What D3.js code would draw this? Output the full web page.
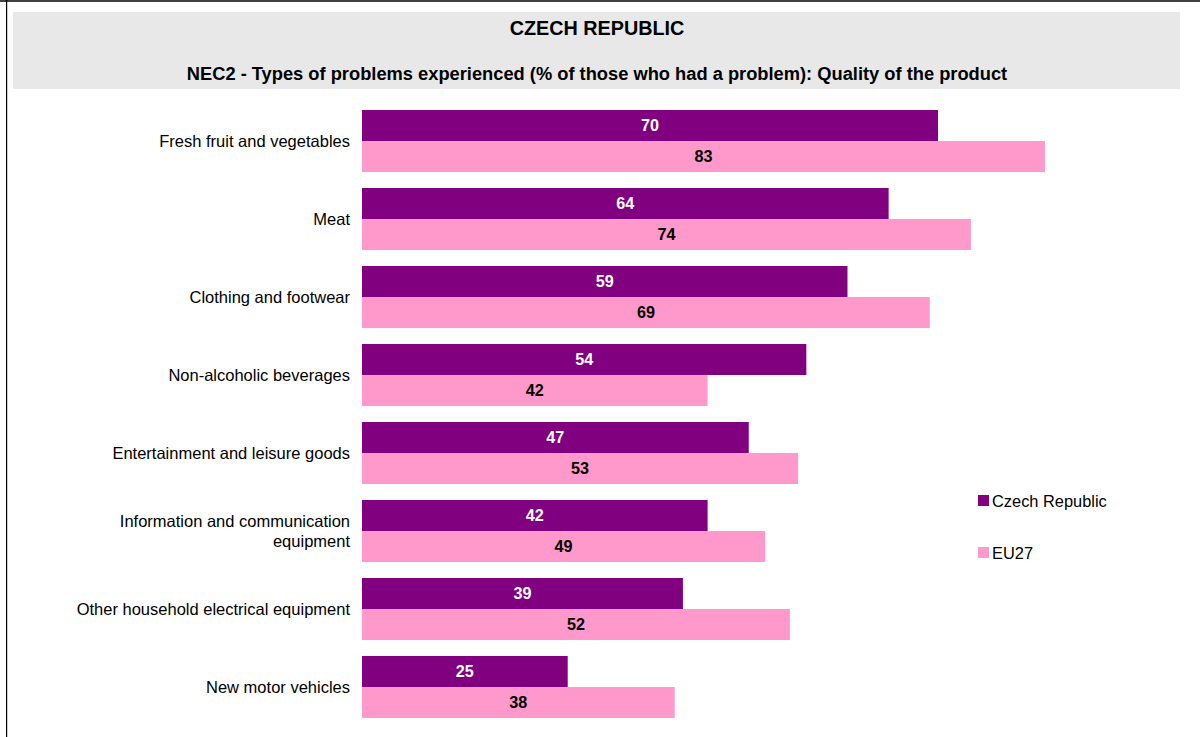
<!DOCTYPE html>
<html><head><meta charset="utf-8">
<script src="https://cdn.jsdelivr.net/npm/d3@7"></script>
<style>body{margin:0;background:#fff;} svg{display:block;font-family:"Liberation Sans",Arial,sans-serif;}</style>
</head><body>
<svg id="c" width="1200" height="737"></svg>
<script>
const categories = ["Fresh fruit and vegetables","Meat","Clothing and footwear","Non-alcoholic beverages","Entertainment and leisure goods","Information and communication equipment","Other household electrical equipment","New motor vehicles"];
const seriesNames = ["Czech Republic","EU27"];
const czValues = [70,64,59,54,47,42,39,25];
const euValues = [83,74,69,42,53,49,52,38];
const colors = ["#800080","#FF99CC"];

const svg = d3.select("#c");
// frame
svg.append("rect").attr("x",0).attr("y",0).attr("width",1200).attr("height",2).attr("fill","#404040");
svg.append("rect").attr("x",6).attr("y",0).attr("width",1.2).attr("height",737).attr("fill","#000");
// title box
svg.append("rect").attr("x",13).attr("y",12).attr("width",1167).attr("height",77).attr("fill","#E8E8E8");
svg.append("text").attr("x",597).attr("y",35).attr("text-anchor","middle").attr("font-weight","bold").attr("font-size",19.8).attr("fill","#000").text("CZECH REPUBLIC");
svg.append("text").attr("x",597).attr("y",80).attr("text-anchor","middle").attr("font-weight","bold").attr("font-size",18.3).attr("fill","#000").text("NEC2 - Types of problems experienced (% of those who had a problem): Quality of the product");

const x = d3.scaleLinear().domain([0,70]).range([362,938]);
const y = d3.scaleBand().domain(categories).range([102,726]).paddingInner(16/78).paddingOuter(8/78);
const inner = d3.scaleBand().domain([0,1]).range([0,y.bandwidth()]);

const data = categories.map((c,i)=>({c, v:[czValues[i],euValues[i]]}));
const g = svg.append("g");
data.forEach(d=>{
  d.v.forEach((v,s)=>{
    const yy = y(d.c)+inner(s);
    g.append("rect").attr("x",x(0)).attr("y",yy).attr("width",x(v)-x(0)).attr("height",inner.bandwidth()).attr("fill",colors[s]);
    g.append("text").attr("x",(x(0)+x(v))/2).attr("y",yy+inner.bandwidth()/2).attr("dy","0.35em")
      .attr("text-anchor","middle").attr("font-weight","bold").attr("font-size",16.2)
      .attr("fill",s===0?"#fff":"#000").text(v);
  });
});
// category labels
const wrap = {"Information and communication equipment":["Information and communication","equipment"]};
data.forEach(d=>{
  const cy = y(d.c)+y.bandwidth()/2;
  const lines = wrap[d.c]||[d.c];
  const t = svg.append("text").attr("text-anchor","end").attr("font-size",16.5).attr("fill","#000");
  lines.forEach((l,i)=>{
    t.append("tspan").attr("x",350).attr("y",cy+(i-(lines.length-1)/2)*20).attr("dy","0.35em").text(l);
  });
});
// legend
seriesNames.forEach((n,i)=>{
  const ly = 501+i*52;
  svg.append("rect").attr("x",978).attr("y",ly-6).attr("width",11).attr("height",11).attr("fill",colors[i]);
  svg.append("text").attr("x",992).attr("y",ly).attr("dy","0.35em").attr("font-size",16.4).attr("fill","#000").text(n);
});
</script>
</body></html>
